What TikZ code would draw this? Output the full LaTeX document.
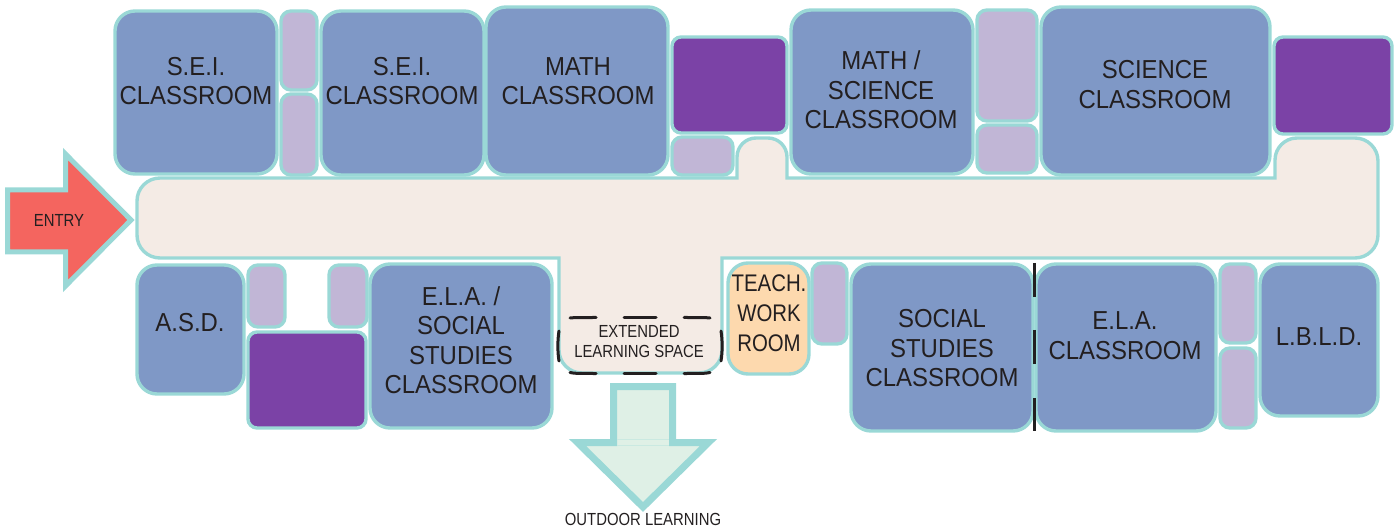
\documentclass[tikz,border=0pt]{standalone}
\usepackage{fontspec}
\setmainfont[FakeStretch=0.92]{Liberation Sans}
\newfontfamily\narrowfont[FakeStretch=0.85]{Liberation Sans}
\definecolor{edgeteal}{HTML}{9AD8D6}
\definecolor{roomblue}{HTML}{7F98C6}
\definecolor{lilac}{HTML}{C1B6D6}
\definecolor{deeppurple}{HTML}{7B42A6}
\definecolor{corridor}{HTML}{F4EBE5}
\definecolor{peach}{HTML}{FDD9AE}
\definecolor{entryred}{HTML}{F4655F}
\definecolor{paleGreen}{HTML}{DFF0E6}
\definecolor{ink}{HTML}{231F20}
\tikzset{
  box/.style={draw=edgeteal,line width=3.4pt,inner sep=0pt,outer sep=0pt,rectangle},
  classroom/.style={box,fill=roomblue,rounded corners=20pt},
  annex/.style={box,fill=lilac,rounded corners=10pt},
  storage/.style={box,fill=deeppurple,rounded corners=9pt},
  teachroom/.style={box,fill=peach,rounded corners=20pt},
  biglabel/.style={text=ink,align=center,inner sep=0pt,font=\fontsize{26}{29.5}\selectfont},
  teachlabel/.style={text=ink,align=center,inner sep=0pt,font=\narrowfont\fontsize{24}{30}\selectfont},
  smalllabel/.style={text=ink,align=center,inner sep=0pt,font=\narrowfont\fontsize{17.5}{20}\selectfont},
  hall/.style={draw=edgeteal,fill=corridor,line width=3.4pt},
  bigarrow/.style={draw=edgeteal,line join=miter,miter limit=10},
  dashseg/.style={draw=ink,line width=3pt,line cap=round}
}
% name, style, x1, y1, x2, y2
\newcommand{\Rm}[6]{%
  \pgfmathsetmacro{\rw}{#5-#3}\pgfmathsetmacro{\rh}{#6-#4}%
  \node[#2,minimum width=\rw pt,minimum height=\rh pt] (#1) at ({(#3+#5)/2},{(#4+#6)/2}) {};}
\begin{document}
\begin{tikzpicture}[x=1pt,y=-1pt]
\useasboundingbox (0,0) rectangle (1395,529);
% corridor
\path[hall] (160,178) -- (737,178) -- (737,157) arc[start angle=-180,end angle=-90,radius=19] -- (768,138)
  arc[start angle=-90,end angle=0,radius=19] -- (787,178) -- (1275,178) -- (1275,160)
  arc[start angle=-180,end angle=-90,radius=22] -- (1355,138) arc[start angle=-90,end angle=0,radius=23]
  -- (1378,235) arc[start angle=0,end angle=90,radius=23] -- (722,258) -- (722,350)
  arc[start angle=0,end angle=90,radius=23] -- (582,373) arc[start angle=90,end angle=180,radius=23]
  -- (559,258) -- (160,258) arc[start angle=90,end angle=180,radius=23] -- (137,201)
  arc[start angle=180,end angle=270,radius=23] -- cycle;
% top row
\Rm{sei1}{classroom}{115}{11}{277}{174}
\Rm{a1}{annex}{281}{11}{317}{90}
\Rm{a2}{annex}{281}{94}{317}{175}
\Rm{sei2}{classroom}{321}{11}{484}{175}
\Rm{math}{classroom}{486}{7}{668}{175}
\Rm{st1}{storage}{672}{37}{787}{133}
\Rm{a3}{annex}{672}{137}{733}{175}
\Rm{mathsci}{classroom}{791}{10}{973}{174}
\Rm{a4}{annex}{977}{10}{1037}{121}
\Rm{a5}{annex}{977}{125}{1037}{173}
\Rm{sci}{classroom}{1041}{7}{1270}{175}
\Rm{st2}{storage}{1274}{37}{1392}{134}
% bottom row
\Rm{asd}{classroom}{137}{265}{244}{394}
\Rm{a6}{annex}{248}{265}{285}{327}
\Rm{a7}{annex}{329}{265}{367}{327}
\Rm{st3}{storage}{248}{332}{366}{428}
\Rm{elass}{classroom}{370}{264}{552}{428}
\Rm{teach}{teachroom}{728}{263}{809}{374}
\Rm{a8}{annex}{812}{263}{847}{344}
\Rm{ss}{classroom}{851}{264}{1033}{431}
\Rm{ela}{classroom}{1036}{264}{1216}{431}
\Rm{a9}{annex}{1220}{264}{1256}{343}
\Rm{a10}{annex}{1220}{348}{1256}{428}
\Rm{lbld}{classroom}{1260}{264}{1378}{416}
% partition
\draw[draw=ink,line width=3pt] (1034,263) -- (1034,297) (1034,330) -- (1034,364) (1034,398) -- (1034,431);
% extended learning space outline
\draw[dashseg] (570,318) .. controls (574,317.5) and (580,317.5) .. (596,317.5);
\draw[dashseg] (624,317.5) -- (656,317.5);
\draw[dashseg] (684,317.5) .. controls (700,317.5) and (706,317.5) .. (710,318);
\draw[dashseg] (559,331) .. controls (557.5,340) and (557.5,352) .. (559,361);
\draw[dashseg] (721,331) .. controls (722.5,340) and (722.5,352) .. (721,361);
\draw[dashseg] (570,372.5) .. controls (574,373.5) and (580,373.5) .. (596,373.5);
\draw[dashseg] (624,373.5) -- (656,373.5);
\draw[dashseg] (684,373.5) .. controls (700,373.5) and (706,373.5) .. (710,372.5);
% arrows
\draw[bigarrow,fill=entryred,line width=5pt] (7.5,190) -- (65.5,190) -- (65.5,154) -- (131,220) -- (65.5,286) -- (65.5,252) -- (7.5,252) -- cycle;
\draw[bigarrow,fill=paleGreen,line width=7pt] (613.5,386.5) -- (672.5,386.5) -- (672.5,442.5) -- (708.5,442.5) -- (643,507) -- (577.5,442.5) -- (613.5,442.5) -- cycle;
\fill[paleGreen!70!edgeteal] (617,439) rectangle (669,440);
\fill[paleGreen!70!edgeteal] (617,445) rectangle (669,446);
% labels
\node[biglabel] (tsei1) at (196,81) {S.E.I.\\CLASSROOM};
\node[biglabel] (tsei2) at (402,81) {S.E.I.\\CLASSROOM};
\node[biglabel] (tmath) at (578,81) {MATH\\CLASSROOM};
\node[biglabel] (tmathsci) at (881,90) {MATH /\\SCIENCE\\CLASSROOM};
\node[biglabel] (tsci) at (1155,84.5) {SCIENCE\\CLASSROOM};
\node[biglabel] (tasd) at (190,323) {A.S.D.};
\node[biglabel] (telass) at (461,340) {E.L.A. /\\SOCIAL\\STUDIES\\CLASSROOM};
\node[teachlabel] (tteach) at (769,313.5) {TEACH.\\WORK\\ROOM};
\node[biglabel] (tss) at (942,348.5) {SOCIAL\\STUDIES\\CLASSROOM};
\node[biglabel] (tela) at (1125,335.5) {E.L.A.\\CLASSROOM};
\node[biglabel] (tlbld) at (1319,337) {L.B.L.D.};
\node[smalllabel] (tentry) at (59,220) {ENTRY};
\node[smalllabel] (text) at (639,342) {EXTENDED\\LEARNING SPACE};
\node[smalllabel] (tout) at (643,519) {OUTDOOR LEARNING};
\end{tikzpicture}
\end{document}
